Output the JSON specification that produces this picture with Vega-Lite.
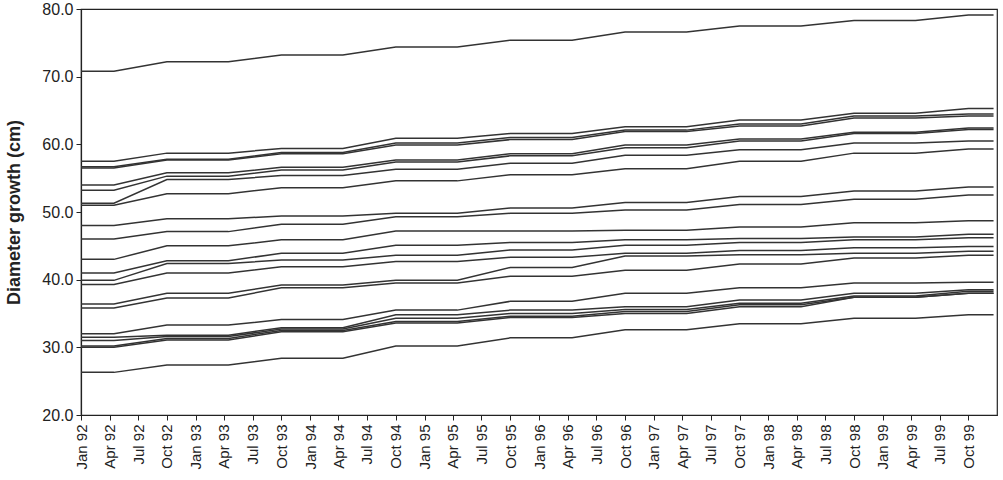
{
  "$schema": "https://vega.github.io/schema/vega-lite/v6.json",
  "width": 916,
  "height": 406,
  "autosize": "none",
  "padding": {"left": 81, "top": 9, "right": 6, "bottom": 65},
  "background": "white",
  "config": {"view": {"stroke": "#222", "strokeWidth": 1.2}, "font": "Liberation Sans"},
  "data": {"values": [
    {"d":"1992/01/01","Z":70.8,"A":57.5,"B":56.7,"C":56.5,"D":54.0,"E":53.2,"F":51.3,"G":51.0,"H":48.0,"I":46.0,"J":43.0,"K":41.0,"L":39.9,"M":39.3,"N":36.4,"O":35.8,"P":32.0,"Q":31.5,"R":31.0,"S":30.2,"T":30.0,"U":26.3},
    {"d":"1992/04/15","Z":70.8,"A":57.5,"B":56.7,"C":56.5,"D":54.0,"E":53.2,"F":51.3,"G":51.0,"H":48.0,"I":46.0,"J":43.0,"K":41.0,"L":39.9,"M":39.3,"N":36.4,"O":35.8,"P":32.0,"Q":31.5,"R":31.0,"S":30.2,"T":30.0,"U":26.3},
    {"d":"1992/10/01","Z":72.2,"A":58.7,"B":57.8,"C":57.7,"D":55.8,"E":55.3,"F":54.8,"G":52.7,"H":49.0,"I":47.1,"J":45.0,"K":42.8,"L":42.4,"M":41.0,"N":38.0,"O":37.3,"P":33.3,"Q":31.8,"R":31.6,"S":31.3,"T":31.1,"U":27.4},
    {"d":"1993/04/15","Z":72.2,"A":58.7,"B":57.8,"C":57.7,"D":55.8,"E":55.3,"F":54.8,"G":52.7,"H":49.0,"I":47.1,"J":45.0,"K":42.8,"L":42.4,"M":41.0,"N":38.0,"O":37.3,"P":33.3,"Q":31.8,"R":31.6,"S":31.3,"T":31.1,"U":27.4},
    {"d":"1993/10/01","Z":73.2,"A":59.4,"B":58.8,"C":58.6,"D":56.6,"E":56.2,"F":55.4,"G":53.6,"H":49.4,"I":48.2,"J":45.9,"K":43.9,"L":42.9,"M":41.9,"N":39.2,"O":38.8,"P":34.1,"Q":32.9,"R":32.7,"S":32.5,"T":32.3,"U":28.4},
    {"d":"1994/04/15","Z":73.2,"A":59.4,"B":58.8,"C":58.6,"D":56.6,"E":56.2,"F":55.4,"G":53.6,"H":49.4,"I":48.2,"J":45.9,"K":43.9,"L":42.9,"M":41.9,"N":39.2,"O":38.8,"P":34.1,"Q":32.9,"R":32.7,"S":32.5,"T":32.3,"U":28.4},
    {"d":"1994/10/01","Z":74.4,"A":60.9,"B":60.2,"C":59.9,"D":57.7,"E":57.4,"F":56.3,"G":54.6,"H":49.8,"I":49.3,"J":47.2,"K":45.1,"L":43.6,"M":42.7,"N":39.9,"O":39.5,"P":35.5,"Q":34.8,"R":34.3,"S":33.8,"T":33.6,"U":30.2},
    {"d":"1995/04/15","Z":74.4,"A":60.9,"B":60.2,"C":59.9,"D":57.7,"E":57.4,"F":56.3,"G":54.6,"H":49.8,"I":49.3,"J":47.2,"K":45.1,"L":43.6,"M":42.7,"N":39.9,"O":39.5,"P":35.5,"Q":34.8,"R":34.3,"S":33.8,"T":33.6,"U":30.2},
    {"d":"1995/10/01","Z":75.4,"A":61.6,"B":61.0,"C":60.7,"D":58.6,"E":58.3,"F":57.2,"G":55.5,"H":50.6,"I":49.8,"J":47.2,"K":45.5,"L":44.4,"M":43.3,"N":41.8,"O":40.5,"P":36.8,"Q":35.5,"R":35.0,"S":34.6,"T":34.4,"U":31.4},
    {"d":"1996/04/15","Z":75.4,"A":61.6,"B":61.0,"C":60.7,"D":58.6,"E":58.3,"F":57.2,"G":55.5,"H":50.6,"I":49.8,"J":47.2,"K":45.5,"L":44.4,"M":43.3,"N":41.8,"O":40.5,"P":36.8,"Q":35.5,"R":35.0,"S":34.6,"T":34.4,"U":31.4},
    {"d":"1996/10/01","Z":76.6,"A":62.6,"B":62.1,"C":61.9,"D":59.9,"E":59.5,"F":58.4,"G":56.4,"H":51.4,"I":50.3,"J":47.3,"K":45.9,"L":45.1,"M":43.9,"N":43.5,"O":41.4,"P":38.0,"Q":36.0,"R":35.6,"S":35.3,"T":35.0,"U":32.6},
    {"d":"1997/04/15","Z":76.6,"A":62.6,"B":62.1,"C":61.9,"D":59.9,"E":59.5,"F":58.4,"G":56.4,"H":51.4,"I":50.3,"J":47.3,"K":45.9,"L":45.1,"M":43.9,"N":43.5,"O":41.4,"P":38.0,"Q":36.0,"R":35.6,"S":35.3,"T":35.0,"U":32.6},
    {"d":"1997/10/01","Z":77.5,"A":63.6,"B":63.0,"C":62.7,"D":60.8,"E":60.5,"F":59.2,"G":57.5,"H":52.3,"I":51.1,"J":47.8,"K":46.1,"L":45.5,"M":44.3,"N":43.7,"O":42.3,"P":38.8,"Q":37.0,"R":36.5,"S":36.3,"T":36.0,"U":33.5},
    {"d":"1998/04/15","Z":77.5,"A":63.6,"B":63.0,"C":62.7,"D":60.8,"E":60.5,"F":59.2,"G":57.5,"H":52.3,"I":51.1,"J":47.8,"K":46.1,"L":45.5,"M":44.3,"N":43.7,"O":42.3,"P":38.8,"Q":37.0,"R":36.5,"S":36.3,"T":36.0,"U":33.5},
    {"d":"1998/10/01","Z":78.3,"A":64.6,"B":64.2,"C":63.9,"D":61.8,"E":61.6,"F":60.2,"G":58.7,"H":53.1,"I":51.9,"J":48.4,"K":46.3,"L":45.9,"M":44.7,"N":43.9,"O":43.2,"P":39.5,"Q":38.0,"R":37.6,"S":37.4,"T":37.4,"U":34.3},
    {"d":"1999/04/15","Z":78.3,"A":64.6,"B":64.2,"C":63.9,"D":61.8,"E":61.6,"F":60.2,"G":58.7,"H":53.1,"I":51.9,"J":48.4,"K":46.3,"L":45.9,"M":44.7,"N":43.9,"O":43.2,"P":39.5,"Q":38.0,"R":37.6,"S":37.4,"T":37.4,"U":34.3},
    {"d":"1999/10/01","Z":79.1,"A":65.3,"B":64.5,"C":64.2,"D":62.4,"E":62.2,"F":60.5,"G":59.3,"H":53.7,"I":52.5,"J":48.7,"K":46.7,"L":46.2,"M":44.9,"N":44.2,"O":43.6,"P":39.6,"Q":38.5,"R":38.3,"S":38.0,"T":38.0,"U":34.8},
    {"d":"1999/12/20","Z":79.1,"A":65.3,"B":64.5,"C":64.2,"D":62.4,"E":62.2,"F":60.5,"G":59.3,"H":53.7,"I":52.5,"J":48.7,"K":46.7,"L":46.2,"M":44.9,"N":44.2,"O":43.6,"P":39.6,"Q":38.5,"R":38.3,"S":38.0,"T":38.0,"U":34.8}
  ]},
  "transform": [
    {"fold": ["Z","A","B","C","D","E","F","G","H","I","J","K","L","M","N","O","P","Q","R","S","T","U"], "as": ["tree", "dbh"]}
  ],
  "mark": {"type": "line", "color": "#333", "strokeWidth": 1.5},
  "encoding": {
    "x": {
      "field": "d", "type": "temporal",
      "scale": {"domain": [{"year": 1992, "month": 1, "date": 1}, {"year": 1999, "month": 12, "date": 31}]},
      "axis": {
        "title": null, "format": "%b %y", "tickCount": {"interval": "month", "step": 3},
        "labelAngle": -90, "labelFontSize": 15, "labelColor": "#222", "tickColor": "#222",
        "domainColor": "#222", "domainWidth": 1.2, "tickSize": 5, "labelPadding": 4, "grid": false,
        "labelOverlap": false, "labelFlush": false
      }
    },
    "y": {
      "field": "dbh", "type": "quantitative",
      "scale": {"domain": [20, 80], "nice": false, "zero": false},
      "axis": {
        "title": "Diameter growth (cm)", "format": ".1f", "values": [20, 30, 40, 50, 60, 70, 80],
        "titleFontSize": 18, "titleFontWeight": "bold", "titleColor": "#222",
        "titleX": -67, "titleY": 203, "titleBaseline": "middle", "titleAlign": "center",
        "labelFontSize": 16, "labelColor": "#222", "tickColor": "#222", "domainColor": "#222", "domainWidth": 1.2,
        "grid": false, "tickSize": 5, "labelPadding": 3
      }
    },
    "detail": {"field": "tree", "type": "nominal"}
  }
}
